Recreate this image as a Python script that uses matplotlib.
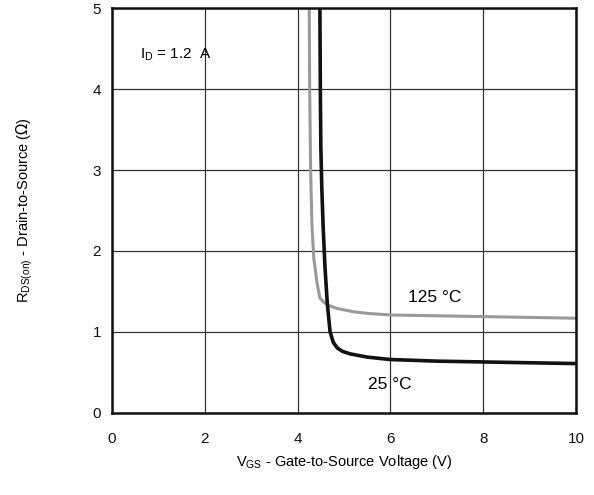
import numpy as np
import matplotlib.pyplot as plt

# R_DS(on) vs V_GS, I_D = 1.2 A
vgs_125 = [4.25, 4.26, 4.28, 4.31, 4.35, 4.42, 4.48, 4.56, 4.66, 4.85, 5.2, 5.5, 6.0, 7.0, 8.0, 9.0, 10.0]
rds_125 = [5.0, 4.0, 3.0, 2.3, 1.9, 1.6, 1.42, 1.37, 1.33, 1.29, 1.25, 1.23, 1.21, 1.20, 1.19, 1.18, 1.17]

vgs_25 = [4.48, 4.49, 4.50, 4.52, 4.55, 4.59, 4.64, 4.70, 4.77, 4.86, 4.97, 5.13, 5.5, 6.0, 7.0, 8.0, 9.0, 10.0]
rds_25 = [5.0, 4.0, 3.3, 2.8, 2.3, 1.8, 1.35, 1.0, 0.87, 0.80, 0.76, 0.73, 0.69, 0.66, 0.64, 0.63, 0.62, 0.61]

x_ticks = [0, 2, 4, 6, 8, 10]
y_ticks = [0, 1, 2, 3, 4, 5]

plt.rcParams['font.family'] = ['Liberation Sans', 'DejaVu Sans']

fig = plt.figure(figsize=(5.94, 4.95), dpi=100)
ax = fig.add_axes([0.1886, 0.1657, 0.7811, 0.8181])

ax.plot(vgs_125, rds_125, color='#999999', lw=2.2, solid_capstyle='butt')
ax.plot(vgs_25, rds_25, color='#111111', lw=2.6, solid_capstyle='butt')

ax.set_xlim(0, 10)
ax.set_ylim(0, 5)
ax.set_xticks(x_ticks)
ax.set_yticks(y_ticks)
ax.tick_params(length=0, labelsize=11, colors='#111111')
ax.tick_params(axis='x', pad=14)
ax.tick_params(axis='y', pad=8)
ax.grid(True, color='#333333', lw=0.9)
for s in ax.spines.values():
    s.set_linewidth(1.8)
    s.set_color('#111111')

ax.text(0.6, 4.42, r'I$_\mathregular{D}$ = 1.2  A', fontsize=11, va='center')
ax.text(6.38, 1.43, '125 °C', fontsize=12.5, va='center')
ax.text(5.52, 0.35, '25 °C', fontsize=12.5, va='center')

ax.set_xlabel(r'V$_\mathregular{GS}$ - Gate-to-Source Voltage (V)', fontsize=10.5, labelpad=5)
ax.set_ylabel(r'R$_\mathregular{DS(on)}$ - Drain-to-Source ($\Omega$)', fontsize=10.5, labelpad=41)

fig.savefig('out.png', dpi=100)
